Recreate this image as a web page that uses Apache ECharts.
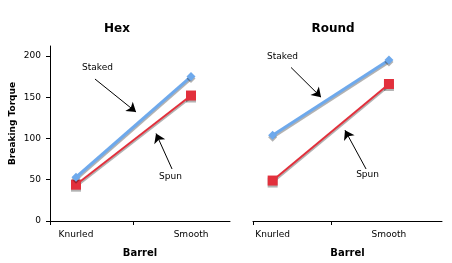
<!DOCTYPE html>
<html>
<head>
<meta charset="utf-8">
<script src="https://cdn.jsdelivr.net/npm/echarts@6/dist/echarts.min.js"></script>
<style>
  html, body { margin: 0; padding: 0; background: #fff; }
  #chart { width: 452px; height: 263px; }
</style>
</head>
<body>
<div id="chart"></div>
<script>
const categories = ['Knurled', 'Smooth']
const hexStaked = [53, 175]
const hexSpun = [44, 152]
const roundStaked = [104, 195]
const roundSpun = [49, 166]
const yTicks = [0, 50, 100, 150, 200]

const font = 'DejaVu Sans'
const blue = '#6ea9ec'
const red = '#e2303c'
const shadow = { shadowColor: 'rgba(0,0,0,0.3)', shadowOffsetY: 2, shadowBlur: 0 }

// x positions of categories are 0 and 1 on a value axis
const toPairs = vals => vals.map((v, i) => [i, v])

function xAxisFor(gridIndex, min, max) {
  return {
    type: 'value',
    gridIndex,
    min,
    max,
    name: 'Barrel',
    nameLocation: 'middle',
    nameGap: 27,
    nameTextStyle: { fontFamily: font, fontWeight: 'bold', fontSize: 10, color: '#000' },
    splitLine: { show: false },
    axisLine: { lineStyle: { color: '#000', width: 1 } },
    axisTick: { customValues: [min, 0.5], length: 4, lineStyle: { color: '#000' } },
    axisLabel: {
      customValues: [0, 1],
      formatter: v => categories[Math.round(v)],
      fontFamily: font,
      fontSize: 9,
      color: '#000',
      margin: 9
    }
  }
}

function yAxisFor(gridIndex, show) {
  return {
    type: 'value',
    gridIndex,
    min: 0,
    max: 212,
    show,
    name: 'Breaking Torque',
    nameLocation: 'middle',
    nameRotate: 90,
    nameGap: 33,
    nameTextStyle: { fontFamily: font, fontWeight: 'bold', fontSize: 9, color: '#000', padding: [0, 0, 0, 20] },
    splitLine: { show: false },
    axisLine: { show: true, onZero: false, lineStyle: { color: '#000', width: 1 } },
    axisTick: { customValues: yTicks, length: 4, lineStyle: { color: '#000' } },
    axisLabel: { customValues: yTicks, fontFamily: font, fontSize: 9, color: '#000', margin: 9 }
  }
}

function arrow(from, to) {
  return [{ coord: from }, { coord: to }]
}

function note(coord, text) {
  return { coord, value: text }
}

function lineSeries(name, data, idx, color, symbol, size, width, arrows, notes) {
  return {
    name,
    type: 'line',
    xAxisIndex: idx,
    yAxisIndex: idx,
    data: toPairs(data),
    symbol,
    symbolSize: size,
    showAllSymbol: true,
    lineStyle: Object.assign({ color, width }, shadow),
    itemStyle: Object.assign({ color, opacity: 1 }, shadow),
    markLine: {
      silent: true,
      symbol: ['none', 'arrow'],
      symbolSize: 9,
      label: { show: false },
      lineStyle: { color: '#000', width: 1, type: 'solid' },
      data: arrows
    },
    markPoint: {
      silent: true,
      symbol: 'circle',
      symbolSize: 1,
      itemStyle: { color: 'rgba(0,0,0,0)' },
      label: {
        show: true,
        position: 'inside',
        formatter: p => p.value,
        fontFamily: font,
        fontSize: 9,
        color: '#000'
      },
      data: notes
    }
  }
}

const chart = echarts.init(document.getElementById('chart'), null, { renderer: 'canvas' })

chart.setOption({
  animation: false,
  backgroundColor: '#fff',
  title: [
    { text: 'Hex', left: 112, top: 18, textAlign: 'center',
      textStyle: { fontFamily: font, fontWeight: 'bold', fontSize: 12, color: '#000' } },
    { text: 'Round', left: 328, top: 18, textAlign: 'center',
      textStyle: { fontFamily: font, fontWeight: 'bold', fontSize: 12, color: '#000' } }
  ],
  grid: [
    { left: 50, right: 222, top: 46, bottom: 40 },
    { left: 253, right: 10, top: 46, bottom: 40 }
  ],
  xAxis: [xAxisFor(0, -0.226, 1.339), xAxisFor(1, -0.169, 1.456)],
  yAxis: [yAxisFor(0, true), yAxisFor(1, false)],
  series: [
    lineSeries('Spun', hexSpun, 0, red, 'rect', 10, 2,
      [arrow([0.835, 63], [0.696, 106])], [note([0.822, 54], 'Spun')]),
    lineSeries('Staked', hexStaked, 0, blue, 'diamond', 9, 3,
      [arrow([0.165, 172], [0.522, 132])], [note([0.187, 186], 'Staked')]),
    lineSeries('Spun', roundSpun, 1, red, 'rect', 10, 2,
      [arrow([0.803, 63], [0.622, 110])], [note([0.816, 56], 'Spun')]),
    lineSeries('Staked', roundStaked, 1, blue, 'diamond', 9, 3,
      [arrow([0.158, 186], [0.416, 150])], [note([0.085, 199], 'Staked')])
  ]
})
</script>
</body>
</html>
